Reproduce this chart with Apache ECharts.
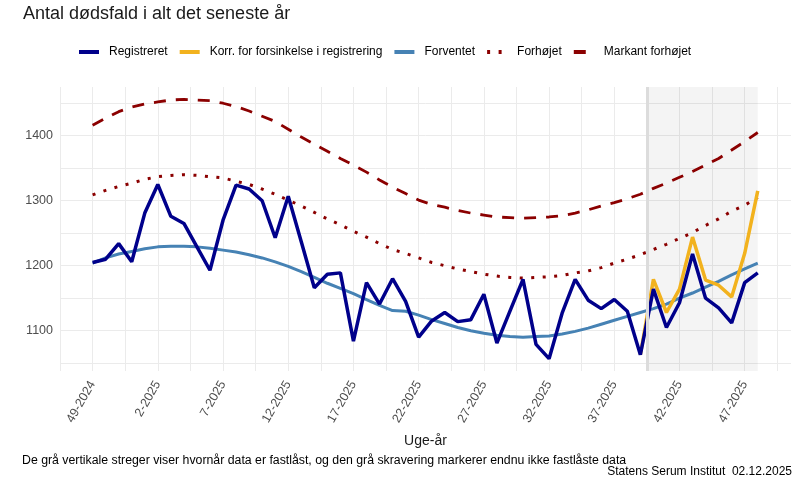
<!DOCTYPE html>
<html>
<head>
<meta charset="utf-8">
<script src="https://cdn.jsdelivr.net/npm/echarts@6/dist/echarts.min.js"></script>
<style>
  html, body { margin: 0; background: #fff; }
  #chart { width: 800px; height: 480px; }
</style>
</head>
<body>
<div id="chart"></div>
<script>
// week labels, one per data point (index 0 = 49-2024)
const weeks = [
  '49-2024', '50-2024', '51-2024', '52-2024',
  '1-2025', '2-2025', '3-2025', '4-2025', '5-2025', '6-2025', '7-2025', '8-2025',
  '9-2025', '10-2025', '11-2025', '12-2025', '13-2025', '14-2025', '15-2025', '16-2025',
  '17-2025', '18-2025', '19-2025', '20-2025', '21-2025', '22-2025', '23-2025', '24-2025',
  '25-2025', '26-2025', '27-2025', '28-2025', '29-2025', '30-2025', '31-2025', '32-2025',
  '33-2025', '34-2025', '35-2025', '36-2025', '37-2025', '38-2025', '39-2025', '40-2025',
  '41-2025', '42-2025', '43-2025', '44-2025', '45-2025', '46-2025', '47-2025', '48-2025'
];

const registreret = [
  1205, 1210, 1234, 1206, 1281, 1325, 1276, 1265, 1229, 1193, 1270, 1324, 1318,
  1300, 1243, 1307, 1237, 1166, 1187, 1189, 1084, 1174, 1141, 1180, 1145, 1090,
  1115, 1128, 1114, 1117, 1156, 1081, 1130, 1179, 1079, 1057, 1127, 1179, 1147,
  1134, 1148, 1130, 1063, 1164, 1105, 1143, 1218, 1150, 1135, 1112, 1174, 1189
];

// corrected for reporting delay, only for the not yet locked weeks
const korrigeret = [
  null, null, null, null, null, null, null, null, null, null, null, null, null,
  null, null, null, null, null, null, null, null, null, null, null, null, null,
  null, null, null, null, null, null, null, null, null, null, null, null, null,
  null, null, null, 1063, 1179, 1128, 1164, 1244, 1178, 1170, 1152, 1219, 1315
];

const forventet = [
  1204, 1212, 1218, 1222, 1226, 1229, 1230, 1230, 1229, 1227, 1224, 1221, 1217,
  1212, 1206, 1199, 1191, 1182, 1173, 1165, 1157, 1148, 1139, 1131, 1130, 1124,
  1117, 1111, 1105, 1100, 1096, 1093, 1091, 1090, 1091, 1092, 1095, 1099, 1104,
  1110, 1116, 1122, 1128, 1134, 1141, 1150, 1158, 1167, 1176, 1186, 1195, 1204
];

const forhoejet = [
  1309, 1316, 1322, 1327, 1333, 1337, 1339, 1340, 1339, 1337, 1335, 1330, 1325,
  1318, 1310, 1301, 1292, 1282, 1272, 1263, 1253, 1244, 1234, 1225, 1219, 1212,
  1205, 1200, 1195, 1191, 1187, 1184, 1182, 1181, 1182, 1183, 1185, 1189, 1192,
  1197, 1204, 1210, 1217, 1225, 1233, 1242, 1251, 1262, 1272, 1284, 1293, 1305
];

const markant = [
  1416, 1427, 1437, 1444, 1449, 1452, 1455, 1456, 1455, 1454, 1450, 1445, 1438,
  1430, 1422, 1410, 1398, 1387, 1376, 1365, 1355, 1344, 1332, 1321, 1311, 1301,
  1294, 1290, 1285, 1281, 1278, 1275, 1274, 1273, 1274, 1275, 1277, 1281, 1286,
  1292, 1297, 1303, 1310, 1319, 1327, 1336, 1345, 1355, 1365, 1378, 1391, 1405
];

const yTicks = [1100, 1200, 1300, 1400];
const yGrid = [1050, 1100, 1150, 1200, 1250, 1300, 1350, 1400, 1450];
const lockedFrom = 42.5;   // first week that is not locked yet

const xLabelIdx = [];
const xGridIdx = [];
for (let i = 0; i <= 50; i += 5) xLabelIdx.push(i);
for (let i = -2.5; i <= 52.5; i += 2.5) xGridIdx.push(i);

const toPairs = arr => arr.map((v, i) => [i, v]);

const FONT = "'Liberation Sans', Arial, sans-serif";
const GRID = '#ebebeb';

const chart = echarts.init(document.getElementById('chart'));

chart.setOption({
  animation: false,
  textStyle: { fontFamily: FONT },
  title: [
    {
      text: 'Antal dødsfald i alt det seneste år',
      left: 18, top: 0,
      textStyle: { fontFamily: FONT, fontSize: 18, fontWeight: 'normal', color: '#1a1a1a' }
    },
    {
      text: 'De grå vertikale streger viser hvornår data er fastlåst, og den grå skravering markerer endnu ikke fastlåste data',
      left: 17, top: 450,
      textStyle: { fontFamily: FONT, fontSize: 12.3, fontWeight: 'normal', color: '#000' }
    },
    {
      text: 'Statens Serum Institut  02.12.2025',
      right: 3, top: 461,
      textStyle: { fontFamily: FONT, fontSize: 12, fontWeight: 'normal', color: '#000' }
    }
  ],
  legend: {
    top: 41,
    left: 72,
    itemWidth: 20,
    itemHeight: 12,
    itemGap: 10,
    itemStyle: { opacity: 0 },
    lineStyle: { width: 4 },
    data: ['Registreret', 'Korr. for forsinkelse i registrering', 'Forventet', 'Forhøjet', 'Markant forhøjet'],
    textStyle: { fontFamily: FONT, fontSize: 12, color: '#000', padding: [0, 0, 0, 5] }
  },
  grid: { left: 60, right: 9, top: 87, bottom: 109 },
  xAxis: {
    type: 'value',
    min: -2.5,
    max: 53.55,
    name: 'Uge-år',
    nameLocation: 'middle',
    nameGap: 63,
    nameTextStyle: { fontFamily: FONT, fontSize: 14, color: '#1a1a1a' },
    axisLine: { show: false },
    axisTick: { show: false, customValues: xGridIdx },
    axisLabel: {
      customValues: xLabelIdx,
      rotate: 60,
      margin: 11,
      fontSize: 12.5,
      color: '#4d4d4d',
      formatter: v => weeks[Math.round(v)]
    },
    splitLine: { show: true, lineStyle: { color: GRID, width: 1 } }
  },
  yAxis: {
    type: 'value',
    min: 1038,
    max: 1475,
    axisLine: { show: false },
    axisTick: { show: false, customValues: yGrid },
    axisLabel: {
      customValues: yTicks, margin: 7, fontSize: 12.5, color: '#4d4d4d',
      formatter: v => String(v)
    },
    splitLine: { show: true, lineStyle: { color: GRID, width: 1 } }
  },
  series: [
    {
      name: 'Markant forhøjet',
      type: 'line',
      data: toPairs(markant),
      symbol: 'none',
      lineStyle: { color: '#8b0000', width: 2.8, type: [12, 10] },
      itemStyle: { color: '#8b0000' },
      markArea: {
        silent: true,
        itemStyle: { color: 'rgba(0,0,0,0.045)' },
        data: [[{ xAxis: lockedFrom }, { xAxis: markant.length - 1 }]]
      },
      markLine: {
        silent: true,
        symbol: 'none',
        label: { show: false },
        lineStyle: { color: '#dcdcdc', width: 3, type: 'solid' },
        data: [{ xAxis: lockedFrom }]
      }
    },
    {
      name: 'Forhøjet',
      type: 'line',
      data: toPairs(forhoejet),
      symbol: 'none',
      lineStyle: { color: '#8b0000', width: 3, type: [3, 8.5] },
      itemStyle: { color: '#8b0000' }
    },
    {
      name: 'Forventet',
      type: 'line',
      data: toPairs(forventet),
      symbol: 'none',
      lineStyle: { color: '#4682b4', width: 3 },
      itemStyle: { color: '#4682b4' }
    },
    {
      name: 'Korr. for forsinkelse i registrering',
      type: 'line',
      data: toPairs(korrigeret),
      symbol: 'none',
      lineStyle: { color: '#f2b21e', width: 3.5 },
      itemStyle: { color: '#f2b21e' }
    },
    {
      name: 'Registreret',
      type: 'line',
      data: toPairs(registreret),
      symbol: 'none',
      lineStyle: { color: '#00008b', width: 3.5 },
      itemStyle: { color: '#00008b' }
    }
  ]
});
</script>
</body>
</html>
